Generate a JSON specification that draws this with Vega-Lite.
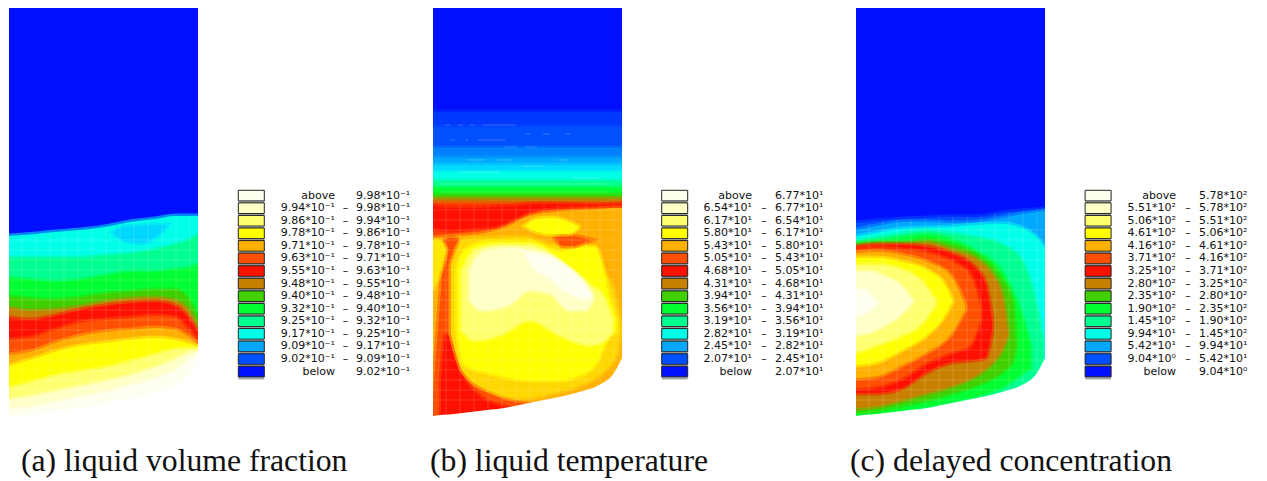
{"$schema":"https://vega.github.io/schema/vega-lite/v6.json","width":1267,"height":481,"padding":0,"autosize":"none","background":"white","view":{"stroke":null},
"datasets":{
"bands":[
{"r":"a00","v":0,"x":0,"y":8,"y2":420},{"r":"a00","v":0,"x":189,"y":8,"y2":420},
{"r":"a03","v":3,"x":0,"y":236,"y2":420},{"r":"a03","v":3,"x":21,"y":234.5,"y2":420},{"r":"a03","v":3,"x":46,"y":232,"y2":420},{"r":"a03","v":3,"x":71,"y":230,"y2":420},{"r":"a03","v":3,"x":96,"y":227,"y2":420},{"r":"a03","v":3,"x":121,"y":222,"y2":420},{"r":"a03","v":3,"x":146,"y":219,"y2":420},{"r":"a03","v":3,"x":166,"y":216,"y2":420},{"r":"a03","v":3,"x":181,"y":216,"y2":420},{"r":"a03","v":3,"x":189,"y":216,"y2":420},
{"r":"a02","v":2.5,"x":104,"y":232,"y2":232},{"r":"a02","v":2.5,"x":114,"y":227,"y2":240},{"r":"a02","v":2.5,"x":130,"y":226,"y2":243},{"r":"a02","v":2.5,"x":148,"y":225,"y2":236},{"r":"a02","v":2.5,"x":158,"y":225,"y2":225},
{"r":"a04","v":4,"x":0,"y":258,"y2":420},{"r":"a04","v":4,"x":21,"y":258,"y2":420},{"r":"a04","v":4,"x":46,"y":258,"y2":420},{"r":"a04","v":4,"x":71,"y":258,"y2":420},{"r":"a04","v":4,"x":96,"y":256,"y2":420},{"r":"a04","v":4,"x":121,"y":254,"y2":420},{"r":"a04","v":4,"x":146,"y":250,"y2":420},{"r":"a04","v":4,"x":166,"y":245,"y2":420},{"r":"a04","v":4,"x":181,"y":240,"y2":420},{"r":"a04","v":4,"x":189,"y":235,"y2":420},
{"r":"a05","v":5,"x":0,"y":278,"y2":420},{"r":"a05","v":5,"x":21,"y":280,"y2":420},{"r":"a05","v":5,"x":46,"y":282,"y2":420},{"r":"a05","v":5,"x":71,"y":280,"y2":420},{"r":"a05","v":5,"x":96,"y":276,"y2":420},{"r":"a05","v":5,"x":121,"y":272,"y2":420},{"r":"a05","v":5,"x":146,"y":272,"y2":420},{"r":"a05","v":5,"x":166,"y":270,"y2":420},{"r":"a05","v":5,"x":181,"y":268,"y2":420},{"r":"a05","v":5,"x":189,"y":265,"y2":420},
{"r":"a06","v":6,"x":0,"y":297,"y2":420},{"r":"a06","v":6,"x":21,"y":299,"y2":420},{"r":"a06","v":6,"x":46,"y":300,"y2":420},{"r":"a06","v":6,"x":71,"y":298,"y2":420},{"r":"a06","v":6,"x":96,"y":294,"y2":420},{"r":"a06","v":6,"x":121,"y":292,"y2":420},{"r":"a06","v":6,"x":146,"y":290,"y2":420},{"r":"a06","v":6,"x":166,"y":290,"y2":420},{"r":"a06","v":6,"x":181,"y":302,"y2":420},{"r":"a06","v":6,"x":189,"y":317,"y2":420},
{"r":"a07","v":7,"x":0,"y":308,"y2":420},{"r":"a07","v":7,"x":21,"y":311,"y2":420},{"r":"a07","v":7,"x":46,"y":310,"y2":420},{"r":"a07","v":7,"x":71,"y":307,"y2":420},{"r":"a07","v":7,"x":96,"y":302,"y2":420},{"r":"a07","v":7,"x":121,"y":299,"y2":420},{"r":"a07","v":7,"x":146,"y":298,"y2":420},{"r":"a07","v":7,"x":166,"y":301,"y2":420},{"r":"a07","v":7,"x":181,"y":313,"y2":420},{"r":"a07","v":7,"x":189,"y":328,"y2":420},
{"r":"a08","v":8,"x":0,"y":318,"y2":420},{"r":"a08","v":8,"x":21,"y":320,"y2":420},{"r":"a08","v":8,"x":46,"y":316,"y2":420},{"r":"a08","v":8,"x":71,"y":310,"y2":420},{"r":"a08","v":8,"x":96,"y":306,"y2":420},{"r":"a08","v":8,"x":121,"y":303,"y2":420},{"r":"a08","v":8,"x":146,"y":302,"y2":420},{"r":"a08","v":8,"x":166,"y":306,"y2":420},{"r":"a08","v":8,"x":181,"y":320,"y2":420},{"r":"a08","v":8,"x":189,"y":333,"y2":420},
{"r":"a09","v":9,"x":0,"y":340,"y2":420},{"r":"a09","v":9,"x":21,"y":338,"y2":420},{"r":"a09","v":9,"x":46,"y":330,"y2":420},{"r":"a09","v":9,"x":71,"y":323,"y2":420},{"r":"a09","v":9,"x":96,"y":320,"y2":420},{"r":"a09","v":9,"x":121,"y":318,"y2":420},{"r":"a09","v":9,"x":146,"y":316,"y2":420},{"r":"a09","v":9,"x":166,"y":318,"y2":420},{"r":"a09","v":9,"x":181,"y":332,"y2":420},{"r":"a09","v":9,"x":189,"y":340,"y2":420},
{"r":"a10","v":10,"x":0,"y":355,"y2":420},{"r":"a10","v":10,"x":21,"y":352,"y2":420},{"r":"a10","v":10,"x":46,"y":343,"y2":420},{"r":"a10","v":10,"x":71,"y":336,"y2":420},{"r":"a10","v":10,"x":96,"y":332,"y2":420},{"r":"a10","v":10,"x":121,"y":330,"y2":420},{"r":"a10","v":10,"x":146,"y":328,"y2":420},{"r":"a10","v":10,"x":166,"y":330,"y2":420},{"r":"a10","v":10,"x":181,"y":338,"y2":420},{"r":"a10","v":10,"x":189,"y":344,"y2":420},
{"r":"a11","v":11,"x":0,"y":366,"y2":420},{"r":"a11","v":11,"x":21,"y":360,"y2":420},{"r":"a11","v":11,"x":46,"y":352,"y2":420},{"r":"a11","v":11,"x":71,"y":346,"y2":420},{"r":"a11","v":11,"x":96,"y":343,"y2":420},{"r":"a11","v":11,"x":121,"y":340,"y2":420},{"r":"a11","v":11,"x":146,"y":338,"y2":420},{"r":"a11","v":11,"x":166,"y":340,"y2":420},{"r":"a11","v":11,"x":181,"y":344,"y2":420},{"r":"a11","v":11,"x":189,"y":347,"y2":420},
{"r":"a12","v":12,"x":0,"y":388,"y2":420},{"r":"a12","v":12,"x":21,"y":383,"y2":420},{"r":"a12","v":12,"x":46,"y":376,"y2":420},{"r":"a12","v":12,"x":71,"y":372,"y2":420},{"r":"a12","v":12,"x":96,"y":368,"y2":420},{"r":"a12","v":12,"x":121,"y":362,"y2":420},{"r":"a12","v":12,"x":146,"y":355,"y2":420},{"r":"a12","v":12,"x":166,"y":350,"y2":420},{"r":"a12","v":12,"x":181,"y":349,"y2":420},{"r":"a12","v":12,"x":189,"y":349,"y2":420},
{"r":"a13","v":13,"x":0,"y":400,"y2":420},{"r":"a13","v":13,"x":21,"y":397,"y2":420},{"r":"a13","v":13,"x":46,"y":392,"y2":420},{"r":"a13","v":13,"x":71,"y":387,"y2":420},{"r":"a13","v":13,"x":96,"y":382,"y2":420},{"r":"a13","v":13,"x":121,"y":376,"y2":420},{"r":"a13","v":13,"x":146,"y":368,"y2":420},{"r":"a13","v":13,"x":166,"y":360,"y2":420},{"r":"a13","v":13,"x":181,"y":353,"y2":420},{"r":"a13","v":13,"x":189,"y":351,"y2":420},
{"r":"a14","v":14,"x":0,"y":410,"y2":420},{"r":"a14","v":14,"x":21,"y":408,"y2":420},{"r":"a14","v":14,"x":46,"y":403,"y2":420},{"r":"a14","v":14,"x":71,"y":398,"y2":420},{"r":"a14","v":14,"x":96,"y":393,"y2":420},{"r":"a14","v":14,"x":121,"y":386,"y2":420},{"r":"a14","v":14,"x":146,"y":379,"y2":420},{"r":"a14","v":14,"x":166,"y":371,"y2":420},{"r":"a14","v":14,"x":181,"y":360,"y2":420},{"r":"a14","v":14,"x":189,"y":354,"y2":420},

{"r":"b00","v":0,"x":0,"y":8,"y2":420},{"r":"b00","v":0,"x":189,"y":8,"y2":420},
{"r":"b005","v":0.5,"x":0,"y":112,"y2":420},{"r":"b005","v":0.5,"x":189,"y":112,"y2":420},
{"r":"b01","v":1,"x":0,"y":127,"y2":420},{"r":"b01","v":1,"x":189,"y":127,"y2":420},
{"r":"b015","v":1.5,"x":0,"y":148,"y2":420},{"r":"b015","v":1.5,"x":189,"y":148,"y2":420},
{"r":"b02","v":2,"x":0,"y":158,"y2":420},{"r":"b02","v":2,"x":189,"y":158,"y2":420},
{"r":"b025","v":2.5,"x":0,"y":165,"y2":420},{"r":"b025","v":2.5,"x":189,"y":165,"y2":420},
{"r":"b03","v":3,"x":0,"y":172,"y2":420},{"r":"b03","v":3,"x":189,"y":172,"y2":420},
{"r":"b04","v":4,"x":0,"y":181,"y2":420},{"r":"b04","v":4,"x":189,"y":181,"y2":420},
{"r":"b05","v":5,"x":0,"y":188,"y2":420},{"r":"b05","v":5,"x":189,"y":188,"y2":420},
{"r":"b06","v":6,"x":0,"y":195,"y2":420},{"r":"b06","v":6,"x":189,"y":195,"y2":420},
{"r":"b07","v":7,"x":0,"y":199,"y2":420},{"r":"b07","v":7,"x":189,"y":199,"y2":420},
{"r":"b08","v":8.6,"x":0,"y":203,"y2":420},{"r":"b08","v":8.6,"x":189,"y":204,"y2":420},
{"r":"b10","v":10,"x":0,"y":238,"y2":420},{"r":"b10","v":10,"x":21,"y":236,"y2":420},{"r":"b10","v":10,"x":46,"y":234,"y2":420},{"r":"b10","v":10,"x":71,"y":228,"y2":420},{"r":"b10","v":10,"x":96,"y":216,"y2":420},{"r":"b10","v":10,"x":121,"y":212,"y2":420},{"r":"b10","v":10,"x":146,"y":210,"y2":420},{"r":"b10","v":10,"x":166,"y":209,"y2":420},{"r":"b10","v":10,"x":181,"y":208,"y2":420},{"r":"b10","v":10,"x":189,"y":208,"y2":420},
{"r":"b081","v":8,"x":0,"y":206,"y2":228},{"r":"b081","v":8,"x":17,"y":208,"y2":230},{"r":"b081","v":8,"x":42,"y":208,"y2":228},{"r":"b081","v":8,"x":62,"y":207,"y2":226},{"r":"b081","v":8,"x":82,"y":206,"y2":218},{"r":"b081","v":8,"x":102,"y":204,"y2":210},{"r":"b081","v":8,"x":127,"y":204,"y2":207},{"r":"b081","v":8,"x":157,"y":205,"y2":206},{"r":"b081","v":8,"x":189,"y":204,"y2":205},
{"r":"b091","v":9,"x":0,"y":395,"y2":420},{"r":"b091","v":9,"x":8,"y":290,"y2":420},{"r":"b091","v":9,"x":12,"y":240,"y2":420},{"r":"b091","v":9,"x":19,"y":238,"y2":420},{"r":"b091","v":9,"x":25,"y":240,"y2":420},{"r":"b091","v":9,"x":33,"y":360,"y2":420},{"r":"b091","v":9,"x":47,"y":385,"y2":420},{"r":"b091","v":9,"x":67,"y":398,"y2":420},{"r":"b091","v":9,"x":87,"y":403,"y2":420},{"r":"b091","v":9,"x":102,"y":405,"y2":420},
{"r":"b082","v":8,"x":8,"y":385,"y2":420},{"r":"b082","v":8,"x":13,"y":335,"y2":420},{"r":"b082","v":8,"x":22,"y":340,"y2":420},{"r":"b082","v":8,"x":30,"y":375,"y2":420},{"r":"b082","v":8,"x":45,"y":395,"y2":420},{"r":"b082","v":8,"x":65,"y":405,"y2":420},{"r":"b082","v":8,"x":85,"y":410,"y2":420},
{"r":"b111","v":10.7,"x":0,"y":240,"y2":290},{"r":"b111","v":10.7,"x":6,"y":241,"y2":275},{"r":"b111","v":10.7,"x":11,"y":245,"y2":260},{"r":"b111","v":10.7,"x":13,"y":250,"y2":251},
{"r":"b105","v":10.5,"x":18,"y":265,"y2":335},{"r":"b105","v":10.5,"x":30,"y":240,"y2":372},{"r":"b105","v":10.5,"x":60,"y":238,"y2":392},{"r":"b105","v":10.5,"x":90,"y":237,"y2":398},{"r":"b105","v":10.5,"x":120,"y":245,"y2":393},{"r":"b105","v":10.5,"x":150,"y":245,"y2":384},{"r":"b105","v":10.5,"x":170,"y":270,"y2":372},{"r":"b105","v":10.5,"x":183,"y":300,"y2":355},{"r":"b105","v":10.5,"x":187,"y":325,"y2":335},
{"r":"b112","v":11,"x":24,"y":270,"y2":330},{"r":"b112","v":11,"x":32,"y":250,"y2":365},{"r":"b112","v":11,"x":57,"y":242,"y2":373},{"r":"b112","v":11,"x":97,"y":242,"y2":380},{"r":"b112","v":11,"x":127,"y":252,"y2":380},{"r":"b112","v":11,"x":147,"y":248,"y2":375},{"r":"b112","v":11,"x":162,"y":247,"y2":365},{"r":"b112","v":11,"x":177,"y":300,"y2":335},{"r":"b112","v":11,"x":183,"y":320,"y2":332},
{"r":"b12","v":12,"x":29,"y":272,"y2":330},{"r":"b12","v":12,"x":42,"y":250,"y2":340},{"r":"b12","v":12,"x":67,"y":245,"y2":335},{"r":"b12","v":12,"x":97,"y":245,"y2":320},{"r":"b12","v":12,"x":127,"y":262,"y2":335},{"r":"b12","v":12,"x":157,"y":285,"y2":345},{"r":"b12","v":12,"x":172,"y":300,"y2":340},{"r":"b12","v":12,"x":179,"y":320,"y2":332},
{"r":"b13","v":13,"x":37,"y":270,"y2":300},{"r":"b13","v":13,"x":50,"y":252,"y2":310},{"r":"b13","v":13,"x":75,"y":248,"y2":305},{"r":"b13","v":13,"x":97,"y":250,"y2":290},{"r":"b13","v":13,"x":117,"y":255,"y2":293},{"r":"b13","v":13,"x":137,"y":270,"y2":310},{"r":"b13","v":13,"x":152,"y":285,"y2":310},{"r":"b13","v":13,"x":160,"y":298,"y2":300},
{"r":"b14","v":14,"x":92,"y":252,"y2":252},{"r":"b14","v":14,"x":97,"y":253,"y2":262},{"r":"b14","v":14,"x":117,"y":258,"y2":278},{"r":"b14","v":14,"x":137,"y":270,"y2":293},{"r":"b14","v":14,"x":152,"y":285,"y2":298},{"r":"b14","v":14,"x":158,"y":295,"y2":296},
{"r":"b092","v":9,"x":122,"y":238,"y2":238},{"r":"b092","v":9,"x":130,"y":234,"y2":246},{"r":"b092","v":9,"x":140,"y":236,"y2":246},{"r":"b092","v":9,"x":150,"y":238,"y2":243},{"r":"b092","v":9,"x":158,"y":240,"y2":240},
{"r":"b113","v":11,"x":92,"y":226,"y2":226},{"r":"b113","v":11,"x":105,"y":219,"y2":232},{"r":"b113","v":11,"x":120,"y":218,"y2":234},{"r":"b113","v":11,"x":135,"y":222,"y2":234},{"r":"b113","v":11,"x":145,"y":226,"y2":228},

{"r":"c00","v":0,"x":0,"y":8,"y2":420},{"r":"c00","v":0,"x":189,"y":8,"y2":420},
{"r":"c01","v":1,"x":0,"y":223,"y2":420},{"r":"c01","v":1,"x":21,"y":221,"y2":420},{"r":"c01","v":1,"x":46,"y":219,"y2":420},{"r":"c01","v":1,"x":71,"y":218,"y2":420},{"r":"c01","v":1,"x":96,"y":217,"y2":420},{"r":"c01","v":1,"x":121,"y":217,"y2":420},{"r":"c01","v":1,"x":146,"y":213,"y2":420},{"r":"c01","v":1,"x":166,"y":211,"y2":420},{"r":"c01","v":1,"x":181,"y":210,"y2":420},{"r":"c01","v":1,"x":189,"y":209,"y2":420},
{"r":"c02","v":2,"x":0,"y":230,"y2":420},{"r":"c02","v":2,"x":21,"y":226,"y2":420},{"r":"c02","v":2,"x":46,"y":222,"y2":420},{"r":"c02","v":2,"x":71,"y":222,"y2":420},{"r":"c02","v":2,"x":96,"y":223,"y2":420},{"r":"c02","v":2,"x":121,"y":222,"y2":420},{"r":"c02","v":2,"x":146,"y":218,"y2":420},{"r":"c02","v":2,"x":166,"y":214,"y2":420},{"r":"c02","v":2,"x":181,"y":212,"y2":420},{"r":"c02","v":2,"x":189,"y":211,"y2":420},
{"r":"c03","v":3,"x":0,"y":237,"y2":420},{"r":"c03","v":3,"x":21,"y":233,"y2":420},{"r":"c03","v":3,"x":46,"y":229,"y2":420},{"r":"c03","v":3,"x":71,"y":228,"y2":420},{"r":"c03","v":3,"x":96,"y":227,"y2":420},{"r":"c03","v":3,"x":121,"y":225,"y2":420},{"r":"c03","v":3,"x":146,"y":224,"y2":420},{"r":"c03","v":3,"x":166,"y":228,"y2":420},{"r":"c03","v":3,"x":181,"y":238,"y2":420},{"r":"c03","v":3,"x":189,"y":248,"y2":420},
{"r":"c04","v":4,"x":0,"y":241,"y2":420},{"r":"c04","v":4,"x":21,"y":238,"y2":420},{"r":"c04","v":4,"x":46,"y":234,"y2":420},{"r":"c04","v":4,"x":71,"y":231,"y2":420},{"r":"c04","v":4,"x":96,"y":234,"y2":420},{"r":"c04","v":4,"x":121,"y":238,"y2":420},{"r":"c04","v":4,"x":146,"y":245,"y2":420},{"r":"c04","v":4,"x":166,"y":262,"y2":420},{"r":"c04","v":4,"x":179,"y":300,"y2":420},{"r":"c04","v":4,"x":187,"y":345,"y2":420},
{"r":"c05","v":5,"x":0,"y":243,"y2":416},{"r":"c05","v":5,"x":21,"y":241,"y2":414},{"r":"c05","v":5,"x":46,"y":238,"y2":411},{"r":"c05","v":5,"x":71,"y":235,"y2":407},{"r":"c05","v":5,"x":96,"y":240,"y2":402},{"r":"c05","v":5,"x":121,"y":252,"y2":396},{"r":"c05","v":5,"x":146,"y":272,"y2":387},{"r":"c05","v":5,"x":164,"y":310,"y2":375},{"r":"c05","v":5,"x":174,"y":345,"y2":368},
{"r":"c06","v":6,"x":0,"y":245,"y2":412},{"r":"c06","v":6,"x":21,"y":243,"y2":410},{"r":"c06","v":6,"x":46,"y":243,"y2":405},{"r":"c06","v":6,"x":71,"y":240,"y2":400},{"r":"c06","v":6,"x":96,"y":245,"y2":393},{"r":"c06","v":6,"x":121,"y":255,"y2":385},{"r":"c06","v":6,"x":146,"y":280,"y2":372},{"r":"c06","v":6,"x":156,"y":300,"y2":362},{"r":"c06","v":6,"x":160,"y":345,"y2":345},
{"r":"c07","v":7,"x":0,"y":246,"y2":408},{"r":"c07","v":7,"x":21,"y":244,"y2":406},{"r":"c07","v":7,"x":46,"y":244,"y2":400},{"r":"c07","v":7,"x":71,"y":243,"y2":393},{"r":"c07","v":7,"x":96,"y":250,"y2":386},{"r":"c07","v":7,"x":121,"y":260,"y2":375},{"r":"c07","v":7,"x":134,"y":272,"y2":365},{"r":"c07","v":7,"x":146,"y":295,"y2":350},{"r":"c07","v":7,"x":152,"y":335,"y2":335},
{"r":"c08","v":8,"x":0,"y":247,"y2":393},{"r":"c08","v":8,"x":21,"y":245,"y2":393},{"r":"c08","v":8,"x":46,"y":245,"y2":388},{"r":"c08","v":8,"x":71,"y":247,"y2":372},{"r":"c08","v":8,"x":96,"y":254,"y2":362},{"r":"c08","v":8,"x":116,"y":265,"y2":360},{"r":"c08","v":8,"x":129,"y":282,"y2":358},{"r":"c08","v":8,"x":136,"y":320,"y2":330},
{"r":"c09","v":9,"x":0,"y":250,"y2":388},{"r":"c09","v":9,"x":21,"y":248,"y2":386},{"r":"c09","v":9,"x":46,"y":250,"y2":378},{"r":"c09","v":9,"x":71,"y":253,"y2":362},{"r":"c09","v":9,"x":96,"y":262,"y2":352},{"r":"c09","v":9,"x":114,"y":275,"y2":345},{"r":"c09","v":9,"x":124,"y":305,"y2":320},
{"r":"c10","v":10,"x":0,"y":253,"y2":378},{"r":"c10","v":10,"x":21,"y":252,"y2":376},{"r":"c10","v":10,"x":46,"y":255,"y2":365},{"r":"c10","v":10,"x":71,"y":262,"y2":352},{"r":"c10","v":10,"x":94,"y":275,"y2":335},{"r":"c10","v":10,"x":109,"y":305,"y2":310},
{"r":"c11","v":11,"x":0,"y":258,"y2":365},{"r":"c11","v":11,"x":21,"y":258,"y2":362},{"r":"c11","v":11,"x":46,"y":262,"y2":350},{"r":"c11","v":11,"x":71,"y":270,"y2":335},{"r":"c11","v":11,"x":89,"y":285,"y2":315},{"r":"c11","v":11,"x":96,"y":300,"y2":302},
{"r":"c12","v":12,"x":0,"y":265,"y2":352},{"r":"c12","v":12,"x":21,"y":265,"y2":345},{"r":"c12","v":12,"x":46,"y":270,"y2":335},{"r":"c12","v":12,"x":64,"y":280,"y2":325},{"r":"c12","v":12,"x":79,"y":300,"y2":305},
{"r":"c13","v":13,"x":0,"y":272,"y2":335},{"r":"c13","v":13,"x":14,"y":272,"y2":332},{"r":"c13","v":13,"x":29,"y":277,"y2":325},{"r":"c13","v":13,"x":44,"y":285,"y2":315},{"r":"c13","v":13,"x":56,"y":300,"y2":302},
{"r":"c14","v":14,"x":0,"y":290,"y2":315},{"r":"c14","v":14,"x":9,"y":291,"y2":313},{"r":"c14","v":14,"x":17,"y":298,"y2":307},{"r":"c14","v":14,"x":21,"y":302,"y2":303}
],
"meshH":[
{"p":"a","y":240},{"p":"a","y":250},{"p":"a","y":260},{"p":"a","y":270},{"p":"a","y":280},{"p":"a","y":290},{"p":"a","y":300},{"p":"a","y":310},{"p":"a","y":320},{"p":"a","y":330},{"p":"a","y":340},{"p":"a","y":350},{"p":"a","y":360},{"p":"a","y":370},{"p":"a","y":380},{"p":"a","y":390},{"p":"a","y":400},
{"p":"b","y":210},{"p":"b","y":220},{"p":"b","y":230},{"p":"b","y":240},{"p":"b","y":250},{"p":"b","y":260},{"p":"b","y":270},{"p":"b","y":280},{"p":"b","y":290},{"p":"b","y":300},{"p":"b","y":310},{"p":"b","y":320},{"p":"b","y":330},{"p":"b","y":340},{"p":"b","y":350},{"p":"b","y":360},{"p":"b","y":370},{"p":"b","y":380},{"p":"b","y":390},{"p":"b","y":400},
{"p":"c","y":230},{"p":"c","y":240},{"p":"c","y":250},{"p":"c","y":260},{"p":"c","y":270},{"p":"c","y":280},{"p":"c","y":290},{"p":"c","y":300},{"p":"c","y":310},{"p":"c","y":320},{"p":"c","y":330},{"p":"c","y":340},{"p":"c","y":350},{"p":"c","y":360},{"p":"c","y":370},{"p":"c","y":380},{"p":"c","y":390},{"p":"c","y":400}
],
"meshV":[
{"p":"a","x":13,"y":236},{"p":"a","x":27,"y":235},{"p":"a","x":41,"y":233},{"p":"a","x":55,"y":231},{"p":"a","x":69,"y":230},{"p":"a","x":83,"y":228},{"p":"a","x":97,"y":226},{"p":"a","x":111,"y":224},{"p":"a","x":125,"y":221},{"p":"a","x":139,"y":220},{"p":"a","x":153,"y":218},{"p":"a","x":167,"y":216},{"p":"a","x":181,"y":216},
{"p":"b","x":13,"y":204},{"p":"b","x":27,"y":204},{"p":"b","x":41,"y":204},{"p":"b","x":55,"y":204},{"p":"b","x":69,"y":204},{"p":"b","x":83,"y":204},{"p":"b","x":97,"y":204},{"p":"b","x":111,"y":204},{"p":"b","x":125,"y":204},{"p":"b","x":139,"y":204},{"p":"b","x":153,"y":204},{"p":"b","x":167,"y":204},{"p":"b","x":181,"y":204},
{"p":"c","x":13,"y":224},{"p":"c","x":27,"y":222},{"p":"c","x":41,"y":220},{"p":"c","x":55,"y":219},{"p":"c","x":69,"y":218},{"p":"c","x":83,"y":217},{"p":"c","x":97,"y":217},{"p":"c","x":111,"y":217},{"p":"c","x":125,"y":216},{"p":"c","x":139,"y":214},{"p":"c","x":153,"y":212},{"p":"c","x":167,"y":211},{"p":"c","x":181,"y":210}
],
"meshFrag":[
{"x":12,"x2":17,"y":125},{"x":25,"x2":30,"y":125},{"x":37,"x2":42,"y":125},{"x":50,"x2":83,"y":125},{"x":92,"x2":97,"y":134},{"x":110,"x2":117,"y":134},{"x":132,"x2":137,"y":134},{"x":17,"x2":22,"y":140},{"x":32,"x2":35,"y":140},{"x":45,"x2":72,"y":140},{"x":71,"x2":84,"y":147},{"x":92,"x2":104,"y":147},{"x":35,"x2":52,"y":160},{"x":65,"x2":79,"y":160},{"x":125,"x2":135,"y":160},{"x":25,"x2":68,"y":172},{"x":90,"x2":112,"y":166},{"x":140,"x2":165,"y":178},{"x":5,"x2":180,"y":184},{"x":10,"x2":175,"y":192}
],
"hull":[
{"p":"a","x":-4,"y":417},{"p":"a","x":0,"y":416},{"p":"a","x":21,"y":414},{"p":"a","x":46,"y":411},{"p":"a","x":71,"y":408},{"p":"a","x":96,"y":403},{"p":"a","x":121,"y":398},{"p":"a","x":146,"y":392},{"p":"a","x":166,"y":385},{"p":"a","x":181,"y":373},{"p":"a","x":189,"y":358},{"p":"a","x":193,"y":350},
{"p":"b","x":-4,"y":417},{"p":"b","x":0,"y":416},{"p":"b","x":21,"y":414},{"p":"b","x":46,"y":411},{"p":"b","x":71,"y":408},{"p":"b","x":96,"y":403},{"p":"b","x":121,"y":398},{"p":"b","x":146,"y":392},{"p":"b","x":166,"y":385},{"p":"b","x":181,"y":373},{"p":"b","x":189,"y":358},{"p":"b","x":193,"y":350},
{"p":"c","x":-4,"y":417},{"p":"c","x":0,"y":416},{"p":"c","x":21,"y":414},{"p":"c","x":46,"y":411},{"p":"c","x":71,"y":408},{"p":"c","x":96,"y":403},{"p":"c","x":121,"y":398},{"p":"c","x":146,"y":392},{"p":"c","x":166,"y":385},{"p":"c","x":181,"y":373},{"p":"c","x":189,"y":358},{"p":"c","x":193,"y":350}
],
"walls":[{"p":"a","e":-3},{"p":"a","e":192},{"p":"b","e":-3},{"p":"b","e":192},{"p":"c","e":-3},{"p":"c","e":192}],
"legend":[
{"p":"a","v":14,"lo":"above","hi":"9.98*10⁻¹"},{"p":"a","v":13,"lo":"9.94*10⁻¹","hi":"9.98*10⁻¹"},{"p":"a","v":12,"lo":"9.86*10⁻¹","hi":"9.94*10⁻¹"},{"p":"a","v":11,"lo":"9.78*10⁻¹","hi":"9.86*10⁻¹"},{"p":"a","v":10,"lo":"9.71*10⁻¹","hi":"9.78*10⁻¹"},{"p":"a","v":9,"lo":"9.63*10⁻¹","hi":"9.71*10⁻¹"},{"p":"a","v":8,"lo":"9.55*10⁻¹","hi":"9.63*10⁻¹"},{"p":"a","v":7,"lo":"9.48*10⁻¹","hi":"9.55*10⁻¹"},{"p":"a","v":6,"lo":"9.40*10⁻¹","hi":"9.48*10⁻¹"},{"p":"a","v":5,"lo":"9.32*10⁻¹","hi":"9.40*10⁻¹"},{"p":"a","v":4,"lo":"9.25*10⁻¹","hi":"9.32*10⁻¹"},{"p":"a","v":3,"lo":"9.17*10⁻¹","hi":"9.25*10⁻¹"},{"p":"a","v":2,"lo":"9.09*10⁻¹","hi":"9.17*10⁻¹"},{"p":"a","v":1,"lo":"9.02*10⁻¹","hi":"9.09*10⁻¹"},{"p":"a","v":0,"lo":"below","hi":"9.02*10⁻¹"},
{"p":"b","v":14,"lo":"above","hi":"6.77*10¹"},{"p":"b","v":13,"lo":"6.54*10¹","hi":"6.77*10¹"},{"p":"b","v":12,"lo":"6.17*10¹","hi":"6.54*10¹"},{"p":"b","v":11,"lo":"5.80*10¹","hi":"6.17*10¹"},{"p":"b","v":10,"lo":"5.43*10¹","hi":"5.80*10¹"},{"p":"b","v":9,"lo":"5.05*10¹","hi":"5.43*10¹"},{"p":"b","v":8,"lo":"4.68*10¹","hi":"5.05*10¹"},{"p":"b","v":7,"lo":"4.31*10¹","hi":"4.68*10¹"},{"p":"b","v":6,"lo":"3.94*10¹","hi":"4.31*10¹"},{"p":"b","v":5,"lo":"3.56*10¹","hi":"3.94*10¹"},{"p":"b","v":4,"lo":"3.19*10¹","hi":"3.56*10¹"},{"p":"b","v":3,"lo":"2.82*10¹","hi":"3.19*10¹"},{"p":"b","v":2,"lo":"2.45*10¹","hi":"2.82*10¹"},{"p":"b","v":1,"lo":"2.07*10¹","hi":"2.45*10¹"},{"p":"b","v":0,"lo":"below","hi":"2.07*10¹"},
{"p":"c","v":14,"lo":"above","hi":"5.78*10²"},{"p":"c","v":13,"lo":"5.51*10²","hi":"5.78*10²"},{"p":"c","v":12,"lo":"5.06*10²","hi":"5.51*10²"},{"p":"c","v":11,"lo":"4.61*10²","hi":"5.06*10²"},{"p":"c","v":10,"lo":"4.16*10²","hi":"4.61*10²"},{"p":"c","v":9,"lo":"3.71*10²","hi":"4.16*10²"},{"p":"c","v":8,"lo":"3.25*10²","hi":"3.71*10²"},{"p":"c","v":7,"lo":"2.80*10²","hi":"3.25*10²"},{"p":"c","v":6,"lo":"2.35*10²","hi":"2.80*10²"},{"p":"c","v":5,"lo":"1.90*10²","hi":"2.35*10²"},{"p":"c","v":4,"lo":"1.45*10²","hi":"1.90*10²"},{"p":"c","v":3,"lo":"9.94*10¹","hi":"1.45*10²"},{"p":"c","v":2,"lo":"5.42*10¹","hi":"9.94*10¹"},{"p":"c","v":1,"lo":"9.04*10⁰","hi":"5.42*10¹"},{"p":"c","v":0,"lo":"below","hi":"9.04*10⁰"}
],
"captions":[{"p":"a","t":"(a) liquid volume fraction"},{"p":"b","t":"(b) liquid temperature"},{"p":"c","t":"(c) delayed concentration"}]
},
"layer":[
{"data":{"name":"bands"},"transform":[{"calculate":"datum.x+{'a':9,'b':433,'c':856}[slice(datum.r,0,1)]","as":"X"}],
 "mark":{"type":"area","interpolate":"monotone","opacity":1,"strokeWidth":5},
 "encoding":{"x":{"field":"X","type":"quantitative","scale":{"domain":[0,1267],"nice":false,"zero":false},"axis":null},
 "y":{"field":"y","type":"quantitative","stack":null,"scale":{"domain":[481,0],"nice":false,"zero":false},"axis":null},"y2":{"field":"y2"},
 "detail":{"field":"r"},
 "strokeOpacity":{"condition":{"test":"datum.v==0","value":0},"value":0.5},
 "color":{"field":"v","type":"quantitative","legend":null,"scale":{"domain":[0,1,2,3,4,5,6,7,8,9,10,11,12,13,14],"range":["#0010ff","#0050ff","#00a8ff","#00ffe8","#00ff90","#00ff30","#40d000","#c88000","#ff1000","#ff5000","#ffb000","#ffff00","#ffff70","#ffffc8","#fffff0"]}},
 "stroke":{"field":"v","type":"quantitative","legend":null,"scale":{"domain":[0,1,2,3,4,5,6,7,8,9,10,11,12,13,14],"range":["#0010ff","#0050ff","#00a8ff","#00ffe8","#00ff90","#00ff30","#40d000","#c88000","#ff1000","#ff5000","#ffb000","#ffff00","#ffff70","#ffffc8","#fffff0"]}}}},
{"data":{"name":"meshH"},"transform":[{"calculate":"{'a':9,'b':433,'c':856}[datum.p]","as":"X"},{"calculate":"datum.X+189","as":"X2"}],
 "mark":{"type":"rule","color":"white","opacity":0.16,"strokeWidth":1},
 "encoding":{"x":{"field":"X","type":"quantitative"},"x2":{"field":"X2"},"y":{"field":"y","type":"quantitative"}}},
{"data":{"name":"meshV"},"transform":[{"calculate":"datum.x+{'a':9,'b':433,'c':856}[datum.p]","as":"X"}],
 "mark":{"type":"rule","color":"white","opacity":0.16,"strokeWidth":1},
 "encoding":{"x":{"field":"X","type":"quantitative"},"y":{"field":"y","type":"quantitative"},"y2":{"datum":420}}},
{"data":{"name":"meshFrag"},"transform":[{"calculate":"datum.x+433","as":"X"},{"calculate":"datum.x2+433","as":"X2"}],
 "mark":{"type":"rule","color":"white","opacity":0.22,"strokeWidth":1},
 "encoding":{"x":{"field":"X","type":"quantitative"},"x2":{"field":"X2"},"y":{"field":"y","type":"quantitative"}}},
{"data":{"name":"hull"},"transform":[{"calculate":"datum.x+{'a':9,'b':433,'c':856}[datum.p]","as":"X"}],
 "mark":{"type":"area","interpolate":"monotone","color":"white","opacity":1},
 "encoding":{"x":{"field":"X","type":"quantitative"},"y":{"field":"y","type":"quantitative","stack":null},"y2":{"datum":428},"detail":{"field":"p"}}},
{"data":{"name":"walls"},"transform":[{"calculate":"datum.e+{'a':9,'b':433,'c':856}[datum.p]","as":"X"}],
 "mark":{"type":"rule","color":"white","strokeWidth":6},
 "encoding":{"x":{"field":"X","type":"quantitative"},"y":{"datum":3},"y2":{"datum":428}}},
{"data":{"name":"legend"},"transform":[{"calculate":"238.3+{'a':0,'b':423.4,'c':846.8}[datum.p]","as":"X"},{"calculate":"datum.X+26","as":"X2"},{"calculate":"190.3+12.57*(14-datum.v)","as":"Y"},{"calculate":"datum.Y+10.6","as":"Y2"}],
 "mark":{"type":"rule","color":"#a0a0a0","strokeWidth":2,"yOffset":1.5},
 "encoding":{"x":{"field":"X","type":"quantitative"},"x2":{"field":"X2"},"y":{"field":"Y2","type":"quantitative"}}},
{"data":{"name":"legend"},"transform":[{"calculate":"238.3+{'a':0,'b':423.4,'c':846.8}[datum.p]","as":"X"},{"calculate":"datum.X+26","as":"X2"},{"calculate":"190.3+12.57*(14-datum.v)","as":"Y"},{"calculate":"datum.Y+10.6","as":"Y2"}],
 "mark":{"type":"rect","stroke":"#222222","strokeWidth":1,"opacity":1},
 "encoding":{"x":{"field":"X","type":"quantitative"},"x2":{"field":"X2"},"y":{"field":"Y","type":"quantitative"},"y2":{"field":"Y2"},
 "color":{"field":"v","type":"quantitative","legend":null}}},
{"data":{"name":"legend"},"transform":[{"calculate":"{'a':335,'b':752,'c':1176}[datum.p]","as":"X"},{"calculate":"195.6+12.57*(14-datum.v)","as":"Y"}],
 "mark":{"type":"text","font":"DejaVu Sans","fontSize":11,"align":"right","baseline":"middle","color":"#111111"},
 "encoding":{"x":{"field":"X","type":"quantitative"},"y":{"field":"Y","type":"quantitative"},"text":{"field":"lo"}}},
{"data":{"name":"legend"},"transform":[{"filter":"datum.v>0 && datum.v<14"},{"calculate":"{'a':345.5,'b':764,'c':1188}[datum.p]","as":"X"},{"calculate":"195.6+12.57*(14-datum.v)","as":"Y"},{"calculate":"'–'","as":"dash"}],
 "mark":{"type":"text","font":"DejaVu Sans","fontSize":11,"align":"center","baseline":"middle","color":"#111111"},
 "encoding":{"x":{"field":"X","type":"quantitative"},"y":{"field":"Y","type":"quantitative"},"text":{"field":"dash"}}},
{"data":{"name":"legend"},"transform":[{"calculate":"{'a':356,'b':775,'c':1199}[datum.p]","as":"X"},{"calculate":"195.6+12.57*(14-datum.v)","as":"Y"}],
 "mark":{"type":"text","font":"DejaVu Sans","fontSize":11,"align":"left","baseline":"middle","color":"#111111"},
 "encoding":{"x":{"field":"X","type":"quantitative"},"y":{"field":"Y","type":"quantitative"},"text":{"field":"hi"}}},
{"data":{"name":"captions"},"transform":[{"calculate":"{'a':21,'b':430,'c':850}[datum.p]","as":"X"},{"calculate":"470.5","as":"Y"}],
 "mark":{"type":"text","font":"Liberation Serif","fontSize":31.7,"align":"left","baseline":"alphabetic","color":"#111111"},
 "encoding":{"x":{"field":"X","type":"quantitative"},"y":{"field":"Y","type":"quantitative"},"text":{"field":"t"}}}
]}
